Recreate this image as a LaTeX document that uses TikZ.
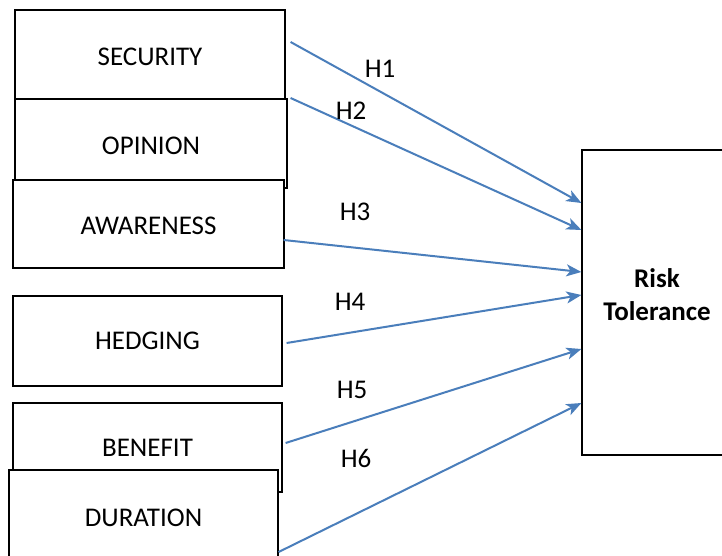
\documentclass[tikz,border=0pt]{standalone}
\usepackage{fontspec}
\setmainfont{Carlito}
\usetikzlibrary{calc,arrows.meta}
\definecolor{arrblue}{RGB}{74,126,187}
\begin{document}
\begin{tikzpicture}[x=1pt,y=-1pt,
  box/.style={draw=black,fill=white,line width=1.2pt,rectangle,inner sep=0pt,
    font=\fontsize{27}{33}\selectfont},
  arr/.style={draw=arrblue,line width=2pt,-{Stealth[length=15pt,width=12pt,inset=4pt]}},
  hlab/.style={font=\fontsize{27}{33}\selectfont,inner sep=0pt}]
\useasboundingbox (0,0) rectangle (722,556);
\fill[white] (0,0) rectangle (722,556);
\node[box,minimum width=270pt,minimum height=89pt,text height=22.5pt] (sec) at (150,54.5) {SECURITY};
\node[box,minimum width=272pt,minimum height=89pt,text height=22.5pt] (opi) at (151,143.5) {OPINION};
\node[box,minimum width=271pt,minimum height=88pt,text height=21.5pt] (awa) at (148.5,224) {AWARENESS};
\node[box,minimum width=269pt,minimum height=90pt] (hed) at (147.5,341) {HEDGING};
\node[box,minimum width=269pt,minimum height=89pt] (ben) at (147.5,447.5) {BENEFIT};
\node[box,minimum width=269pt,minimum height=95pt] (dur) at (143.5,517.5) {DURATION};
\node[box,minimum width=152pt,minimum height=305pt] (risk) at (658,302.5) {};
\node[hlab,align=center,font=\fontsize{27}{33}\selectfont\bfseries] (risktxt) at ($(risk.center)+(-1,-8)$) {Risk\\Tolerance};
\draw[arr] ($(sec.east)+(5,-12.5)$) -- ($(risk.west)+(0,-99.5)$);
\draw[arr] ($(opi.east)+(3,-45.5)$) -- ($(risk.west)+(0,-72.5)$);
\draw[arr] ($(awa.east)+(-1,16)$) -- ($(risk.west)+(0,-30.5)$);
\draw[arr] ($(hed.east)+(4,2)$) -- ($(risk.west)+(0,-7.5)$);
\draw[arr] ($(ben.east)+(3,-4.5)$) -- ($(risk.west)+(0,46.5)$);
\draw[arr] ($(dur.east)+(0,34.5)$) -- ($(risk.west)+(0,100.5)$);
\node[hlab] (h1) at (380,69) {H1};
\node[hlab] (h2) at (351,111) {H2};
\node[hlab] (h3) at (355,212) {H3};
\node[hlab] (h4) at (350,302) {H4};
\node[hlab] (h5) at (352,390) {H5};
\node[hlab] (h6) at (356,458) {H6};
\end{tikzpicture}
\end{document}
